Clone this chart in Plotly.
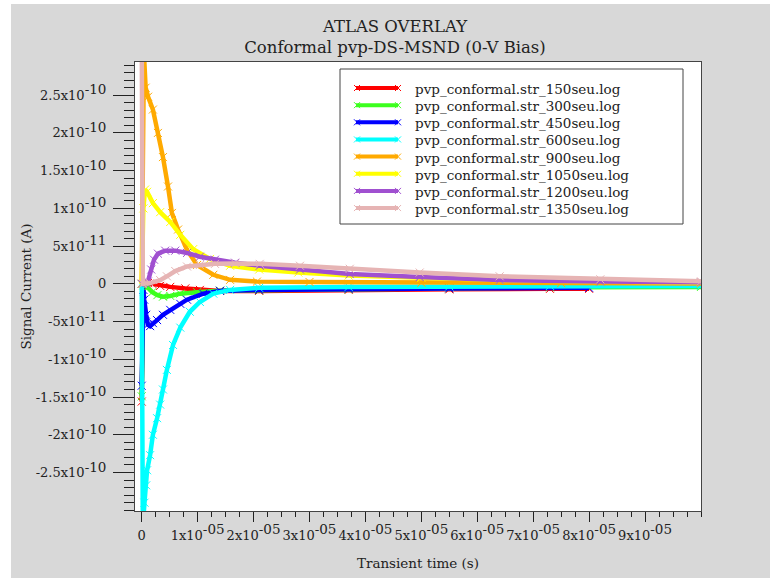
import plotly.graph_objects as go

# ---- data (time in s, current in A) ----
names = ["pvp_conformal.str_150seu.log", "pvp_conformal.str_300seu.log",
         "pvp_conformal.str_450seu.log", "pvp_conformal.str_600seu.log",
         "pvp_conformal.str_900seu.log", "pvp_conformal.str_1050seu.log",
         "pvp_conformal.str_1200seu.log", "pvp_conformal.str_1350seu.log"]
colors = ["#ff0000", "#3cff1e", "#0000ff", "#00ffff",
          "#ffaa00", "#ffff00", "#a050d0", "#e6b4b4"]

t_150 = [0, 0.3e-6, 1.1e-6, 1.9e-6, 3.3e-6, 5.1e-6, 7.8e-6, 10.4e-6, 14e-6, 21e-6, 37e-6, 55e-6, 73e-6, 80e-6]
i_150 = [-1.56e-10, 0, 0.01e-10, 0, -0.027e-10, -0.04e-10, -0.06e-10, -0.08e-10, -0.093e-10, -0.093e-10, -0.08e-10, -0.073e-10, -0.066e-10, -0.066e-10]

t_300 = [0, 0.3e-6, 1.1e-6, 1.9e-6, 2.8e-6, 3.8e-6, 5.1e-6, 6.9e-6, 9.9e-6, 14e-6, 21e-6, 37e-6, 55e-6, 73e-6, 100e-6]
i_300 = [-1.49e-10, -0.02e-10, -0.05e-10, -0.11e-10, -0.15e-10, -0.17e-10, -0.16e-10, -0.13e-10, -0.11e-10, -0.09e-10, -0.086e-10, -0.073e-10, -0.06e-10, -0.046e-10, -0.04e-10]

t_450 = [0, 0.3e-6, 0.45e-6, 0.8e-6, 1.1e-6, 1.5e-6, 2.0e-6, 2.75e-6, 3.8e-6, 5.1e-6, 6.9e-6, 8.1e-6, 11e-6, 14e-6, 21e-6, 37e-6, 55e-6, 80e-6]
i_450 = [-1.35e-10, -0.08e-10, -0.21e-10, -0.41e-10, -0.54e-10, -0.56e-10, -0.52e-10, -0.48e-10, -0.41e-10, -0.345e-10, -0.265e-10, -0.21e-10, -0.13e-10, -0.093e-10, -0.08e-10, -0.066e-10, -0.06e-10, -0.053e-10]

t_600 = [0, 0.2e-6, 0.5e-6, 0.8e-6, 0.96e-6, 1.5e-6, 2.0e-6, 2.75e-6, 3.3e-6, 3.8e-6, 4.5e-6, 5.6e-6, 6.9e-6, 8.6e-6, 10.4e-6, 12.8e-6, 15.8e-6, 21e-6, 37e-6, 55e-6, 73e-6, 100e-6]
i_600 = [0, -3.2e-10, -2.9e-10, -2.67e-10, -2.47e-10, -2.27e-10, -2.0e-10, -1.78e-10, -1.6e-10, -1.4e-10, -1.14e-10, -0.81e-10, -0.58e-10, -0.37e-10, -0.24e-10, -0.13e-10, -0.08e-10, -0.053e-10, -0.04e-10, -0.033e-10, -0.027e-10, -0.027e-10]

t_900 = [0, 0.4e-6, 0.7e-6, 1.14e-6, 2.0e-6, 2.9e-6, 3.8e-6, 4.7e-6, 5.4e-6, 6.5e-6, 8.1e-6, 9.9e-6, 12.8e-6, 15.8e-6, 20.6e-6, 30e-6, 50e-6, 75e-6, 100e-6]
i_900 = [0, 3.05e-10, 2.6e-10, 2.48e-10, 2.31e-10, 2.0e-10, 1.68e-10, 1.29e-10, 0.94e-10, 0.72e-10, 0.45e-10, 0.25e-10, 0.12e-10, 0.053e-10, 0.03e-10, 0.025e-10, 0.015e-10, 0.01e-10, 0.006e-10]

t_1050 = [0, 0.3e-6, 0.6e-6, 0.96e-6, 2.0e-6, 3.3e-6, 5.1e-6, 6.9e-6, 9.2e-6, 12.2e-6, 15.8e-6, 21e-6, 28e-6, 37e-6, 50e-6, 64e-6, 82e-6, 100e-6]
i_1050 = [0, 1.0e-10, 1.25e-10, 1.22e-10, 1.07e-10, 0.95e-10, 0.82e-10, 0.65e-10, 0.46e-10, 0.33e-10, 0.24e-10, 0.19e-10, 0.15e-10, 0.11e-10, 0.08e-10, 0.05e-10, 0.03e-10, 0.015e-10]

t_1200 = [0, 0.8e-6, 1.1e-6, 1.7e-6, 2.2e-6, 2.9e-6, 4.2e-6, 6.0e-6, 8.1e-6, 10.4e-6, 13.1e-6, 16.7e-6, 21.1e-6, 28.3e-6, 37.2e-6, 49.7e-6, 64e-6, 82e-6, 100e-6]
i_1200 = [0, 0.01e-10, 0.03e-10, 0.19e-10, 0.32e-10, 0.40e-10, 0.44e-10, 0.44e-10, 0.41e-10, 0.36e-10, 0.32e-10, 0.28e-10, 0.24e-10, 0.19e-10, 0.13e-10, 0.09e-10, 0.05e-10, 0.03e-10, 0.02e-10]

t_1350 = [0, 0.2e-6, 1.5e-6, 3.3e-6, 4.5e-6, 6.0e-6, 8.1e-6, 10.4e-6, 13.1e-6, 16.7e-6, 21.1e-6, 28.3e-6, 37.2e-6, 49.7e-6, 64e-6, 82e-6, 100e-6]
i_1350 = [3.3e-10, 0, 0.01e-10, 0.05e-10, 0.1e-10, 0.17e-10, 0.23e-10, 0.25e-10, 0.265e-10, 0.27e-10, 0.265e-10, 0.24e-10, 0.2e-10, 0.15e-10, 0.1e-10, 0.06e-10, 0.033e-10]

series_t = [t_150, t_300, t_450, t_600, t_900, t_1050, t_1200, t_1350]
series_i = [i_150, i_300, i_450, i_600, i_900, i_1050, i_1200, i_1350]

SUP = '<sup><span style="font-size:13.5px">%s</span></sup>'
x_tickvals = [0, 1e-5, 2e-5, 3e-5, 4e-5, 5e-5, 6e-5, 7e-5, 8e-5, 9e-5]
x_ticktext = ["0"] + [("%dx10" % k) + SUP % "-05" for k in range(1, 10)]
y_tickvals = [-2.5e-10, -2e-10, -1.5e-10, -1e-10, -5e-11, 0, 5e-11, 1e-10, 1.5e-10, 2e-10, 2.5e-10]
y_mant = ["-2.5", "-2", "-1.5", "-1", "-5", None, "5", "1", "1.5", "2", "2.5"]
y_exp = ["-10", "-10", "-10", "-10", "-11", None, "-11", "-10", "-10", "-10", "-10"]
y_ticktext = ["0" if m is None else (m + "x10" + SUP % e) for m, e in zip(y_mant, y_exp)]

FONT = "DejaVu Serif"
TXT = "#222222"

# plot-area geometry (pixels) used only to place layout furniture
L, R, T, B = 135, 701, 62, 511
def px_x(px):
    return (px - L) / (R - L)
def px_y(py):
    return (B - py) / (B - T)

fig = go.Figure()
for n, c, tt, ii in zip(names, colors, series_t, series_i):
    fig.add_trace(go.Scatter(
        x=tt, y=ii, name=n, mode="lines+markers", showlegend=False,
        line=dict(color=c, width=4.5),
        marker=dict(symbol="x-thin", size=8, line=dict(color=c, width=1), color=c),
    ))

# ---- legend drawn as layout furniture ----
shapes = [
    dict(type="rect", xref="paper", yref="paper", x0=px_x(340), x1=px_x(683),
         y0=px_y(224), y1=px_y(69), fillcolor="white",
         line=dict(color="#444444", width=1), layer="above"),
]
annotations = []
for k, (n, c) in enumerate(zip(names, colors)):
    yy = 88 + 17.15 * k
    shapes.append(dict(type="line", xref="paper", yref="paper",
                       x0=px_x(356), x1=px_x(398), y0=px_y(yy), y1=px_y(yy),
                       line=dict(color=c, width=4), layer="above"))
    for xm in (357, 398):
        shapes.append(dict(type="path", xref="paper", yref="paper",
                           xsizemode="pixel", ysizemode="pixel",
                           xanchor=px_x(xm), yanchor=px_y(yy),
                           path="M-3,-3L3,3M-3,3L3,-3",
                           line=dict(color=c, width=1), layer="above"))
    annotations.append(dict(text=n, xref="paper", yref="paper",
                            x=px_x(413), y=px_y(yy + 1), xanchor="left", yanchor="middle",
                            showarrow=False, font=dict(family=FONT, size=13.5, color=TXT)))

# white strips at the image's top/left edge
shapes += [
    dict(type="rect", xref="paper", yref="paper", x0=px_x(-20), x1=px_x(11),
         y0=px_y(600), y1=px_y(-20), fillcolor="white", line=dict(width=0), layer="above"),
    dict(type="rect", xref="paper", yref="paper", x0=px_x(-20), x1=px_x(790),
         y0=px_y(4), y1=px_y(-20), fillcolor="white", line=dict(width=0), layer="above"),
]

fig.update_layout(
    width=770, height=578,
    margin=dict(l=L, r=770 - R, t=T, b=578 - B, autoexpand=False),
    paper_bgcolor="#d8d8d8", plot_bgcolor="white",
    font=dict(family=FONT, size=13, color=TXT),
    title=dict(text="ATLAS OVERLAY<br>Conformal pvp-DS-MSND (0-V Bias)",
               x=395 / 770, xanchor="center", xref="container",
               y=1 - 32 / 578, yanchor="top", yref="container",
               font=dict(family=FONT, size=16.5, color=TXT)),
    showlegend=False,
    xaxis=dict(range=[-1.2e-6, 1.0e-4], tickvals=x_tickvals, ticktext=x_ticktext,
               ticks="outside", ticklen=10, tickwidth=1, tickcolor=TXT,
               tickfont=dict(family=FONT, size=13, color=TXT),
               ticklabelstandoff=2,
               minor=dict(dtick=2.5e-6, tick0=0, ticks="outside", ticklen=5, tickcolor=TXT),
               showgrid=False, zeroline=False, showline=True, linecolor="#444444",
               mirror=True, linewidth=1,
               title=dict(text="Transient time (s)", standoff=16,
                          font=dict(family=FONT, size=13.5, color=TXT))),
    yaxis=dict(range=[-3.01e-10, 2.94e-10], tickvals=y_tickvals, ticktext=y_ticktext,
               ticks="outside", ticklen=21, tickwidth=1, tickcolor=TXT,
               tickfont=dict(family=FONT, size=13, color=TXT),
               ticklabelstandoff=4,
               minor=dict(dtick=1e-11, tick0=0, ticks="outside", ticklen=10, tickcolor=TXT),
               showgrid=False, zeroline=False, showline=True, linecolor="#444444",
               mirror=True, linewidth=1,
               title=dict(text="Signal Current (A)", standoff=0,
                          font=dict(family=FONT, size=13.5, color=TXT))),
    shapes=shapes,
    annotations=annotations,
)

fig.write_html("out.html")
